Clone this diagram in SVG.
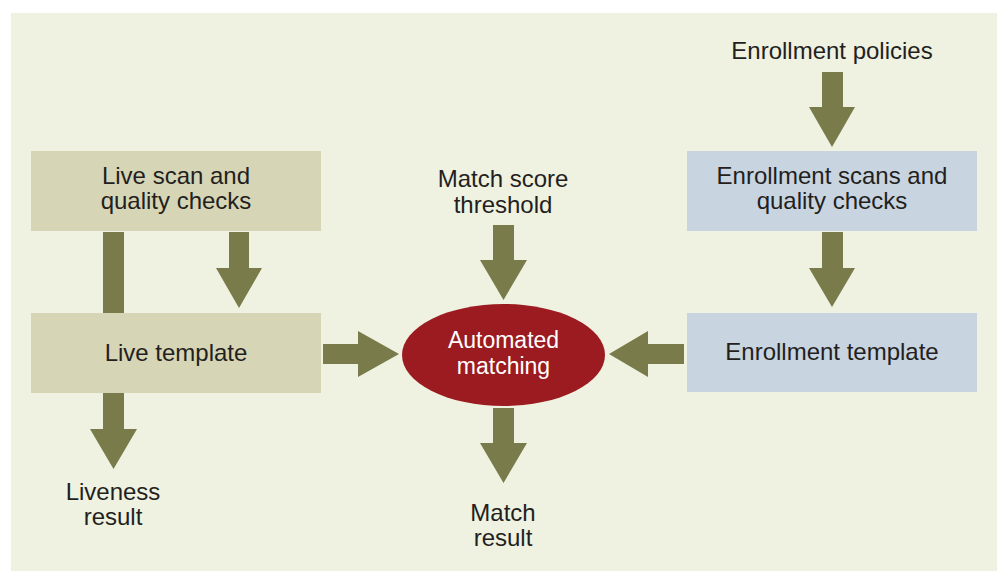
<svg xmlns="http://www.w3.org/2000/svg" width="997" height="571" viewBox="0 0 997 571">
<style>
.t{font-family:"Liberation Sans",Arial,sans-serif;font-size:24px;fill:#231f20;text-anchor:middle}
.w{fill:#ffffff;font-size:23px}
.live{fill:#d6d5b5}
.enr{fill:#c8d4e0}
.arr{fill:#7a7b4a}
</style>
<rect x="0" y="0" width="997" height="571" fill="#ffffff"/>
<rect x="11" y="13" width="986" height="558" fill="#eff1e1"/>
<g id="connectors">
<rect class="arr" x="103" y="232" width="21" height="81"/>
<polygon class="arr" points="229,232 249,232 249,268 262,268 239,308 216,268 229,268"/>
<polygon class="arr" points="103,393 124,393 124,429 137,429 113.5,469 90,429 103,429"/>
<polygon class="arr" points="323,344 358,344 358,331 399,354 358,377 358,364 323,364"/>
<polygon class="arr" points="493,225 514,225 514,260 527,260 503.5,300 480,260 493,260"/>
<polygon class="arr" points="493,408 514,408 514,443 527,443 503.5,483 480,443 493,443"/>
<polygon class="arr" points="684,344 648,344 648,331 609,354 648,377 648,364 684,364"/>
<polygon class="arr" points="822,72 843,72 843,107 855,107 832,147 809,107 822,107"/>
<polygon class="arr" points="822,232 843,232 843,268 855,268 832,307 809,268 822,268"/>
</g>
<g id="live-scan">
<rect class="live" x="31" y="151" width="290" height="80"/>
<text class="t" x="176" y="184">Live scan and</text>
<text class="t" x="176" y="209">quality checks</text>
</g>
<g id="live-template">
<rect class="live" x="31" y="313" width="290" height="80"/>
<text class="t" x="176" y="361">Live template</text>
</g>
<g id="liveness-result">
<text class="t" x="113" y="500">Liveness</text>
<text class="t" x="113" y="525">result</text>
</g>
<g id="match-threshold">
<text class="t" x="503" y="187">Match score</text>
<text class="t" x="503" y="213">threshold</text>
</g>
<g id="automated-matching">
<ellipse cx="503.5" cy="355" rx="101.5" ry="51" fill="#9b1b20"/>
<text class="t w" x="503.5" y="348">Automated</text>
<text class="t w" x="503.5" y="374">matching</text>
</g>
<g id="match-result">
<text class="t" x="503" y="521">Match</text>
<text class="t" x="503" y="546">result</text>
</g>
<g id="enrollment-policies">
<text class="t" x="832" y="59">Enrollment policies</text>
</g>
<g id="enrollment-scans">
<rect class="enr" x="687" y="151" width="290" height="80"/>
<text class="t" x="832" y="184">Enrollment scans and</text>
<text class="t" x="832" y="209">quality checks</text>
</g>
<g id="enrollment-template">
<rect class="enr" x="687" y="313" width="290" height="79"/>
<text class="t" x="832" y="360">Enrollment template</text>
</g>
</svg>
